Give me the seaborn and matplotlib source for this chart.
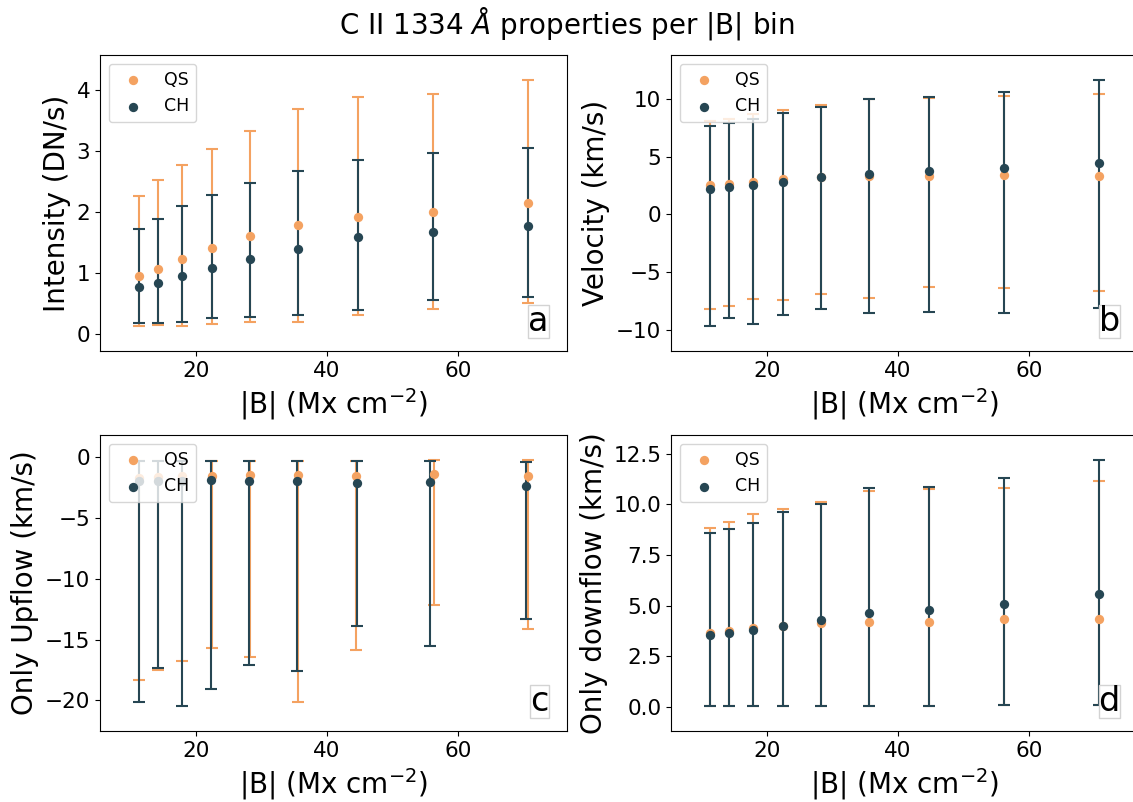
import numpy as np
import matplotlib
matplotlib.use("Agg")
import matplotlib.pyplot as plt
import seaborn as sns

# |B| bin centres (Mx cm^-2)
b_bins = [11.2, 14.1, 17.8, 22.4, 28.2, 35.5, 44.7, 56.2, 70.8]
# upflow panel: mean |B| per bin differs a little between QS and CH
b_up_qs = [11.2, 14.1, 17.8, 22.4, 28.2, 35.5, 44.4, 56.3, 70.8]
b_up_ch = [11.3, 14.1, 17.8, 22.3, 28.1, 35.4, 44.6, 55.7, 70.5]

# intensity (DN/s): centre, lower and upper cap
int_qs = [0.95, 1.07, 1.22, 1.41, 1.60, 1.79, 1.91, 1.99, 2.15]
int_qs_lo = [0.13, 0.14, 0.13, 0.16, 0.20, 0.19, 0.30, 0.41, 0.51]
int_qs_hi = [2.26, 2.52, 2.77, 3.03, 3.33, 3.68, 3.89, 3.94, 4.16]
int_ch = [0.77, 0.84, 0.94, 1.08, 1.22, 1.39, 1.59, 1.67, 1.76]
int_ch_lo = [0.17, 0.18, 0.20, 0.25, 0.28, 0.30, 0.39, 0.56, 0.60]
int_ch_hi = [1.72, 1.88, 2.09, 2.27, 2.48, 2.67, 2.85, 2.96, 3.05]

# velocity (km/s)
vel_qs = [2.53, 2.61, 2.82, 3.10, 3.22, 3.30, 3.36, 3.42, 3.33]
vel_qs_lo = [-8.19, -7.90, -7.33, -7.36, -6.90, -7.24, -6.24, -6.32, -6.64]
vel_qs_hi = [8.05, 8.28, 8.70, 9.05, 9.48, 9.94, 10.09, 10.23, 10.43]
vel_ch = [2.21, 2.41, 2.56, 2.79, 3.22, 3.53, 3.71, 4.02, 4.45]
vel_ch_lo = [-9.63, -8.94, -9.43, -8.71, -8.19, -8.51, -8.42, -8.51, -8.10]
vel_ch_hi = [7.61, 7.90, 8.28, 8.76, 9.28, 10.00, 10.17, 10.57, 11.61]

# only upflow (km/s)
up_qs = [-1.67, -1.62, -1.56, -1.53, -1.48, -1.42, -1.51, -1.37, -1.56]
up_qs_lo = [-18.36, -17.51, -16.79, -15.70, -16.44, -20.11, -15.84, -12.16, -14.14]
up_qs_hi = [-0.28, -0.28, -0.28, -0.28, -0.28, -0.28, -0.28, -0.22, -0.22]
up_ch = [-1.95, -1.95, -1.92, -1.84, -1.95, -1.97, -2.11, -2.05, -2.38]
up_ch_lo = [-20.11, -17.32, -20.47, -19.10, -17.07, -17.62, -13.86, -15.51, -13.32]
up_ch_hi = [-0.33, -0.33, -0.33, -0.33, -0.33, -0.33, -0.33, -0.27, -0.41]

# only downflow (km/s)
down_qs = [3.66, 3.73, 3.89, 4.02, 4.16, 4.19, 4.21, 4.35, 4.34]
down_qs_lo = [0.05, 0.05, 0.05, 0.05, 0.07, 0.05, 0.07, 0.08, 0.10]
down_qs_hi = [8.84, 9.13, 9.51, 9.76, 10.12, 10.64, 10.78, 10.82, 11.17]
down_ch = [3.55, 3.66, 3.78, 4.02, 4.32, 4.65, 4.80, 5.08, 5.57]
down_ch_lo = [0.05, 0.05, 0.05, 0.05, 0.07, 0.05, 0.07, 0.08, 0.10]
down_ch_hi = [8.57, 8.76, 9.10, 9.61, 10.00, 10.81, 10.86, 11.28, 12.19]

qs_color = "#f4a261"
ch_color = "#264653"

panels = [
    ("Intensity (DN/s)", "a", b_bins, b_bins, int_qs, int_qs_lo, int_qs_hi,
     int_ch, int_ch_lo, int_ch_hi, (-0.284, 4.574), [0, 1, 2, 3, 4]),
    ("Velocity (km/s)", "b", b_bins, b_bins, vel_qs, vel_qs_lo, vel_qs_hi,
     vel_ch, vel_ch_lo, vel_ch_hi, (-11.78, 13.76), [-10, -5, 0, 5, 10]),
    ("Only Upflow (km/s)", "c", b_up_qs, b_up_ch, up_qs, up_qs_lo, up_qs_hi,
     up_ch, up_ch_lo, up_ch_hi, (-22.52, 1.84), [-20, -15, -10, -5, 0]),
    ("Only downflow (km/s)", "d", b_bins, b_bins, down_qs, down_qs_lo, down_qs_hi,
     down_ch, down_ch_lo, down_ch_hi, (-1.18, 13.42), [0.0, 2.5, 5.0, 7.5, 10.0, 12.5]),
]

fig, axes = plt.subplots(2, 2, figsize=(11.33, 8.02), dpi=100)
plt.subplots_adjust(left=0.0883, right=1.0044, top=0.9314, bottom=0.0885,
                    wspace=0.2227, hspace=0.2838)

for ax, (ylab, tag, xq, xc, yq, lq, hq, yc, lc, hc, ylim, yt) in zip(axes.flat, panels):
    yq, lq, hq = np.array(yq), np.array(lq), np.array(hq)
    yc, lc, hc = np.array(yc), np.array(lc), np.array(hc)
    ax.errorbar(xq, yq, yerr=[yq - lq, hq - yq], fmt="none", ecolor=qs_color,
                elinewidth=1.5, capsize=4, capthick=1.5)
    ax.errorbar(xc, yc, yerr=[yc - lc, hc - yc], fmt="none", ecolor=ch_color,
                elinewidth=1.5, capsize=4, capthick=1.5)
    sns.scatterplot(x=xq, y=yq, color=qs_color, s=45, linewidth=0, label="QS", ax=ax, zorder=3)
    sns.scatterplot(x=xc, y=yc, color=ch_color, s=45, linewidth=0, label="CH", ax=ax, zorder=3)
    ax.legend(loc="upper left", fontsize=12.5)
    ax.set_xlim(5.3, 76.7)
    ax.set_ylim(*ylim)
    ax.set_xticks([20, 40, 60])
    ax.set_yticks(yt)
    ax.tick_params(labelsize=15.5)
    ax.set_xlabel(r"|B| (Mx cm$^{-2}$)", fontsize=20)
    ax.set_ylabel(ylab, fontsize=20)
    ax.text(0.961, 0.044, tag, transform=ax.transAxes, ha="right", va="bottom",
            fontsize=24, bbox=dict(boxstyle="square,pad=0.0", facecolor="white",
                                   edgecolor="lightgray"))

fig.text(0.5, 1 - 33 / 802, r"C II 1334 $\AA$ properties per |B| bin",
         ha="center", va="baseline", fontsize=20)

plt.savefig("out.png", dpi=100)
